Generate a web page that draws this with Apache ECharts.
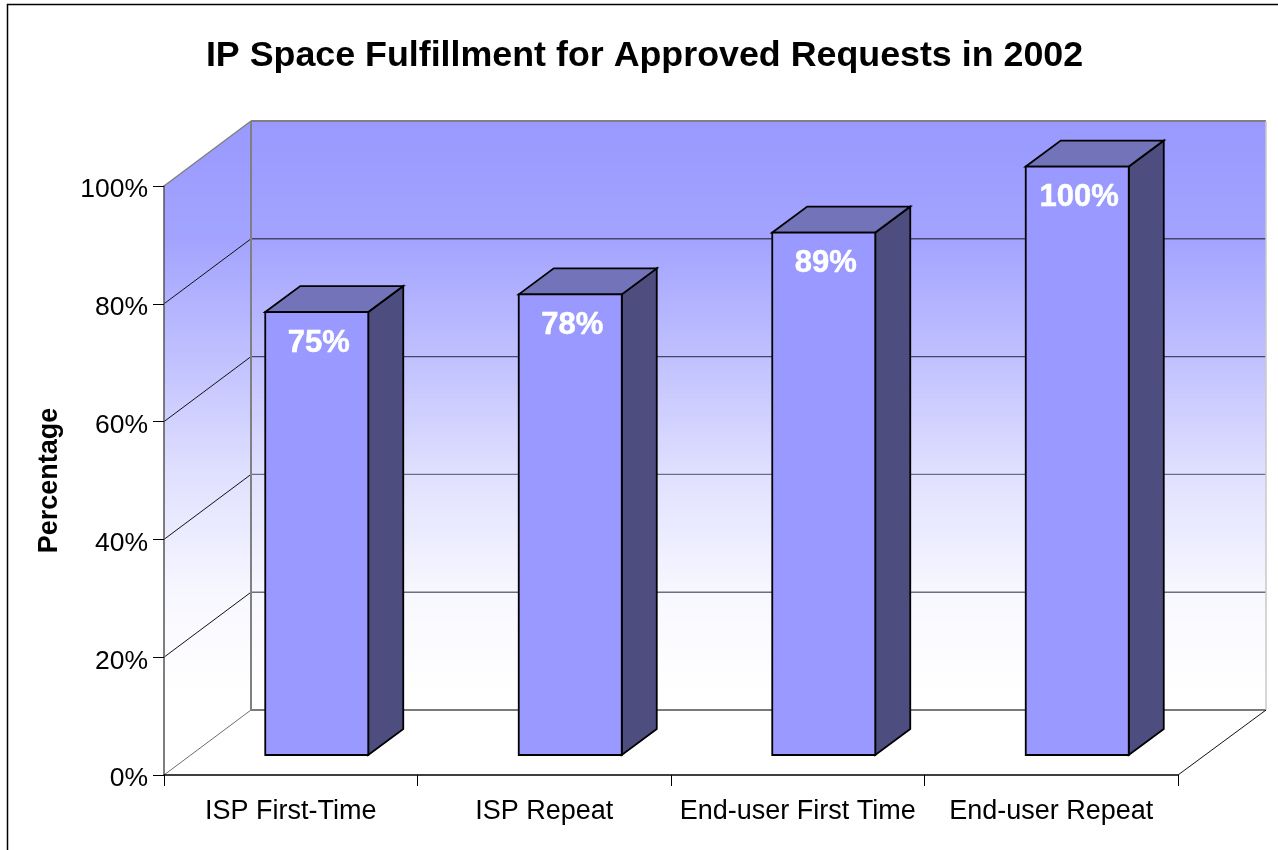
<!DOCTYPE html>
<html>
<head>
<meta charset="utf-8">
<title>IP Space Fulfillment</title>
<script src="https://cdn.jsdelivr.net/npm/echarts@6/dist/echarts.min.js"></script>
<style>
  html, body { margin: 0; padding: 0; background: #fff; }
  #chart { width: 1278px; height: 850px; }
</style>
</head>
<body>
<div id="chart"></div>
<script>
// 3D-look column chart: walls and boxes are custom series placed through the axes.
const categories = ['ISP First-Time', 'ISP Repeat', 'End-user First Time', 'End-user Repeat']
// bar heights, the labels show them rounded
const percentages = [75.2, 78.2, 88.7, 99.9]
const yTicks = [0, 20, 40, 60, 80, 100]

const FONT = '"Liberation Sans", Arial, sans-serif'
const DEPTH_X = 87
const DEPTH_Y = -65
const BAR_WIDTH = 103
// bars stand a bit inside the floor
const BAR_SHIFT_X = 26
const BAR_SHIFT_Y = -20
const BAR_DEPTH_X = 35
const BAR_DEPTH_Y = -26

function poly(points, style, z2) {
  return { type: 'polygon', shape: { points }, style, z2 }
}

function line(x1, y1, x2, y2, stroke, lineWidth, z2) {
  return { type: 'line', shape: { x1, y1, x2, y2 }, style: { stroke, lineWidth }, z2: z2 || 3 }
}

// scale squeezes the stops for the side wall, whose box runs past the back wall's floor
function wallGradient(scale) {
  return new echarts.graphic.LinearGradient(0, 0, 0, 1, [
    { offset: 0, color: '#9999ff' },
    { offset: 0.2 * scale, color: '#a3a3ff' },
    { offset: 0.4 * scale, color: '#c0c0ff' },
    { offset: 0.6 * scale, color: '#e0e0ff' },
    { offset: 0.8 * scale, color: '#f7f7ff' },
    { offset: 0.97 * scale, color: '#ffffff' },
    { offset: 1, color: '#ffffff' },
  ])
}

function renderWalls(params, api) {
  const c = params.coordSys
  const left = c.x
  const right = c.x + c.width
  const top = c.y
  const bottom = c.y + c.height
  const children = [
    poly([[left, top], [left + DEPTH_X, top + DEPTH_Y], [left + DEPTH_X, bottom + DEPTH_Y], [left, bottom]],
      { fill: wallGradient(0.9) }, 1),
    poly([[left + DEPTH_X, top + DEPTH_Y], [right + DEPTH_X + 1, top + DEPTH_Y], [right + DEPTH_X + 1, bottom + DEPTH_Y], [left + DEPTH_X, bottom + DEPTH_Y]],
      { fill: wallGradient(1) }, 1),
  ]
  for (const tick of yTicks) {
    const y = api.coord([0, tick])[1]
    if (tick < 100) {
      const color = tick === 0 ? '#7a7a7a' : tick >= 60 ? '#46466a' : '#6e6e80'
      children.push(line(left + DEPTH_X, y + DEPTH_Y, right + DEPTH_X + 1, y + DEPTH_Y, color, tick === 0 ? 2 : 1.4))
    }
    children.push(line(left, y, left + DEPTH_X, y + DEPTH_Y, tick === 100 ? '#808080' : tick === 0 ? '#6e6e6e' : '#111111', tick === 100 ? 1.5 : 1))
  }
  // outer edges of the back wall
  children.push(line(left + DEPTH_X, top + DEPTH_Y, right + DEPTH_X + 1, top + DEPTH_Y, '#808080', 2))
  children.push(line(left + DEPTH_X, top + DEPTH_Y, left + DEPTH_X, bottom + DEPTH_Y, '#808080', 2))
  children.push(line(right + DEPTH_X + 1, top + DEPTH_Y, right + DEPTH_X + 1, bottom + DEPTH_Y, '#c8c8c8', 1.5))
  children.push(line(right, bottom, right + DEPTH_X + 1, bottom + DEPTH_Y, '#111111', 1))
  return { type: 'group', children }
}

function renderBar(params, api) {
  const topPt = api.coord([api.value(0), api.value(1)])
  const basePt = api.coord([api.value(0), 0])
  const x0 = topPt[0] + BAR_SHIFT_X - BAR_WIDTH / 2
  const x1 = x0 + BAR_WIDTH
  const y0 = topPt[1] + BAR_SHIFT_Y
  const y1 = basePt[1] + BAR_SHIFT_Y
  const edge = { stroke: '#000', lineWidth: 1.8 }
  return {
    type: 'group',
    children: [
      poly([[x1, y0], [x1 + BAR_DEPTH_X, y0 + BAR_DEPTH_Y], [x1 + BAR_DEPTH_X, y1 + BAR_DEPTH_Y], [x1, y1]],
        { fill: '#4d4d7f', ...edge }, 5),
      poly([[x0, y0], [x0 + BAR_DEPTH_X, y0 + BAR_DEPTH_Y], [x1 + BAR_DEPTH_X, y0 + BAR_DEPTH_Y], [x1, y0]],
        { fill: '#7373b9', ...edge }, 5),
      { type: 'rect', shape: { x: x0, y: y0, width: BAR_WIDTH, height: y1 - y0 },
        style: { fill: '#9999ff', ...edge }, z2: 6 },
      { type: 'text', z2: 7,
        style: { text: Math.round(api.value(1)) + '%', x: (x0 + x1) / 2 + 2, y: y0 + 31, fill: '#ffffff',
          stroke: '#ffffff', lineWidth: 0.5,
          font: 'bold 31px ' + FONT, align: 'center', verticalAlign: 'middle' } },
    ],
  }
}

const chart = echarts.init(document.getElementById('chart'), null, { renderer: 'canvas' })
chart.setOption({
  backgroundColor: '#ffffff',
  animation: false,
  title: {
    text: 'IP Space Fulfillment for Approved Requests in 2002',
    left: 639.5,
    top: 33,
    textAlign: 'center',
    textStyle: { fontFamily: FONT, fontWeight: 'bold', fontSize: 35.8, color: '#000' },
  },
  graphic: [{
    type: 'polyline',
    silent: true,
    shape: { points: [[7.5, 850], [7.5, 4.5], [1278, 4.5]] },
    style: { stroke: '#000', lineWidth: 1.5, fill: null },
  }],
  grid: { left: 164, right: 100, top: 186, height: 589 },
  xAxis: {
    type: 'category',
    data: categories,
    z: 5,
    axisLine: { lineStyle: { color: '#000', width: 1.5 } },
    axisTick: { show: true, length: 11, lineStyle: { color: '#000', width: 1 } },
    axisLabel: { color: '#000', fontFamily: FONT, fontSize: 27, margin: 23, interval: 0 },
    splitLine: { show: false },
  },
  yAxis: {
    type: 'value',
    min: 0,
    max: 100,
    interval: 20,
    z: 5,
    name: 'Percentage',
    nameLocation: 'middle',
    nameGap: 101,
    nameTextStyle: { color: '#000', fontFamily: FONT, fontWeight: 'bold', fontSize: 27 },
    axisLine: { show: true, lineStyle: { color: '#555', width: 1.5 } },
    axisTick: { show: true, length: 11, lineStyle: { color: '#000', width: 1 } },
    axisLabel: { color: '#000', fontFamily: FONT, fontSize: 26.5, margin: 16, verticalAlign: 'top', lineHeight: 8, formatter: (v) => v + '%' },
    splitLine: { show: false },
  },
  series: [
    { type: 'custom', silent: true, z: 1, renderItem: renderWalls, data: [[0, 0]], encode: { x: 0, y: 1 } },
    {
      type: 'custom',
      silent: true,
      z: 3,
      renderItem: renderBar,
      data: percentages.map((v, i) => [i, v]),
      encode: { x: 0, y: 1 },
    },
  ],
})
</script>
</body>
</html>
